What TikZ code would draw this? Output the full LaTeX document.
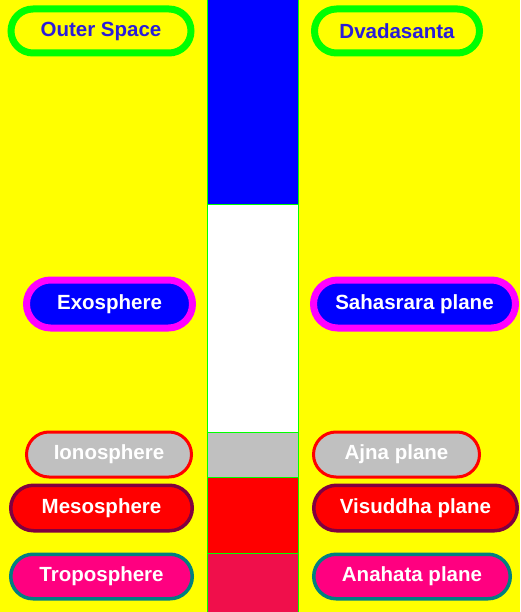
\documentclass[tikz,border=0pt]{standalone}
\usepackage{fontspec}
\setmainfont{Liberation Sans}
\usepackage{tikz}
\usetikzlibrary{shapes.misc}
\definecolor{yellowx}{HTML}{FFFF00}
\definecolor{greenx}{HTML}{00FF00}
\definecolor{bluex}{HTML}{0000FF}
\definecolor{inkx}{HTML}{2A1CD8}
\definecolor{magx}{HTML}{FF00FF}
\definecolor{greyx}{HTML}{C0C0C0}
\definecolor{redx}{HTML}{FF0000}
\definecolor{maroonx}{HTML}{800040}
\definecolor{pinkx}{HTML}{FF0080}
\definecolor{tealx}{HTML}{008080}
\definecolor{crimx}{HTML}{F00F4B}
\tikzset{
  pill/.style={rounded rectangle,inner sep=0pt,font=\fontsize{20.5}{24}\selectfont\bfseries},
  sky/.style={pill,draw=greenx,line width=7pt,fill=yellowx,text=inkx,minimum height=44pt},
  exo/.style={pill,draw=magx,line width=7pt,fill=bluex,text=white,minimum height=48pt},
  iono/.style={pill,draw=redx,line width=3pt,fill=greyx,text=white,minimum height=45pt},
  meso/.style={pill,draw=maroonx,line width=3.5pt,fill=redx,text=white,minimum height=45.5pt},
  tropo/.style={pill,draw=tealx,line width=3.5pt,fill=pinkx,text=white,minimum height=44.5pt},
  band/.style={draw=greenx,line width=1pt}
}
\begin{document}
\begin{tikzpicture}[x=1pt,y=-1pt]
\useasboundingbox (0,0) rectangle (520,612);
\fill[yellowx] (0,0) rectangle (520,612);
% middle column
\filldraw[band,fill=bluex] (207,-3) rectangle (298,205);
\filldraw[band,fill=white] (207,205) rectangle (298,432);
\filldraw[band,fill=greyx] (207,432) rectangle (298,477);
\filldraw[band,fill=redx] (207,477) rectangle (298,553);
\filldraw[band,fill=crimx] (207,553) rectangle (298,615);
% left: atmosphere
\node[sky,minimum width=180pt] (outer) at (101,31) {Outer Space};
\node[exo,minimum width=166pt] (exo) at (109.5,304) {Exosphere};
\node[iono,minimum width=165pt] (iono) at (109,454.5) {Ionosphere};
\node[meso,minimum width=181.5pt] (meso) at (101.5,508) {Mesosphere};
\node[tropo,minimum width=181.5pt] (tropo) at (101.5,576.5) {Troposphere};
% right: planes
\node[sky,minimum width=165pt] (dvada) at (397,31) {Dvadasanta};
\node[exo,minimum width=202pt] (sahas) at (414.5,304) {Sahasrara plane};
\node[iono,minimum width=166pt] (ajna) at (396.5,454.5) {Ajna plane};
\node[meso,minimum width=203.5pt] (visud) at (415.5,508) {Visuddha plane};
\node[tropo,minimum width=196.5pt] (anah) at (412,576.5) {Anahata plane};
\end{tikzpicture}
\end{document}
